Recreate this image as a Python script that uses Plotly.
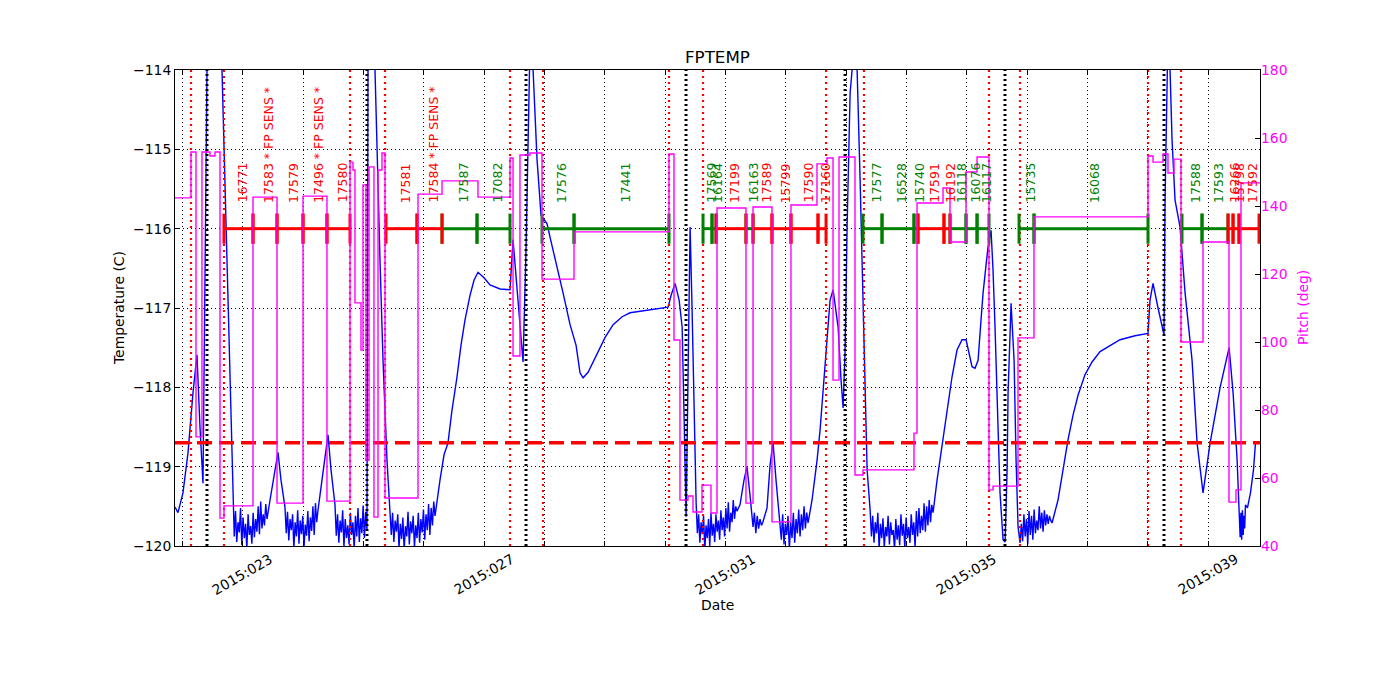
import plotly.graph_objects as go
from datetime import datetime, timedelta

# ---------------- data (day of year 2015) ----------------
# FPTEMP keypoints (day, deg C)
temp_k0 = [(21.873, -119.51), (21.922, -119.58), (22.005, -119.33), (22.088, -118.83), (22.171, -118.07),
           (22.237, -117.59), (22.287, -118.50), (22.337, -119.21), (22.403, -114.0), (22.519, -112.5),
           (22.652, -114.0), (22.751, -116.90)]
temp_k1 = [(23.448, -119.42), (23.514, -119.11), (23.580, -118.82), (23.630, -119.17)]
temp_k2 = [(24.309, -119.17), (24.359, -118.85), (24.409, -118.60), (24.459, -119.04)]
temp_k3 = [(25.072, -114.0), (25.122, -112.8), (25.188, -114.0), (25.271, -116.40), (25.321, -117.66),
           (25.387, -118.92)]
temp_k4 = [(26.265, -119.17), (26.332, -118.85), (26.398, -118.70), (26.464, -118.29), (26.547, -117.87),
           (26.613, -117.47), (26.680, -117.15), (26.763, -116.84), (26.829, -116.65), (26.895, -116.55),
           (26.995, -116.62), (27.094, -116.71), (27.260, -116.76), (27.426, -116.77), (27.476, -116.14),
           (27.559, -116.90), (27.642, -117.68), (27.691, -116.27), (27.741, -114.0), (27.774, -113.0),
           (27.808, -114.0), (27.874, -115.13), (27.940, -115.83), (27.990, -115.89), (28.040, -115.94),
           (28.090, -116.11), (28.189, -116.42), (28.305, -116.81), (28.421, -117.21), (28.521, -117.47),
           (28.587, -117.82), (28.637, -117.88), (28.720, -117.81), (28.869, -117.57), (29.002, -117.37),
           (29.135, -117.21), (29.284, -117.11), (29.416, -117.06), (29.665, -117.03), (30.046, -116.99),
           (30.096, -116.84), (30.162, -116.69), (30.229, -116.90), (30.279, -117.24), (30.312, -118.41),
           (30.345, -119.63), (30.378, -117.78), (30.411, -115.98), (30.444, -117.03), (30.477, -118.41)]
temp_k5 = [(31.238, -119.48), (31.304, -119.17), (31.354, -119.00), (31.404, -119.36)]
temp_k6 = [(31.736, -118.98), (31.785, -118.69), (31.835, -119.17)]
temp_k7 = [(32.432, -119.42), (32.515, -118.92), (32.565, -118.54), (32.615, -118.07), (32.681, -117.40),
           (32.731, -116.90), (32.781, -116.77), (32.830, -117.03), (32.864, -117.24), (32.913, -117.91),
           (32.947, -118.26), (32.980, -117.53), (33.013, -115.98), (33.063, -114.29), (33.096, -114.0),
           (33.129, -113.3), (33.179, -114.0), (33.229, -115.39), (33.262, -116.40), (33.312, -117.91),
           (33.345, -119.04)]
temp_k8 = [(34.504, -119.17), (34.554, -118.92), (34.620, -118.54), (34.670, -118.29), (34.752, -117.87),
           (34.835, -117.53), (34.918, -117.40), (34.985, -117.40), (35.034, -117.59), (35.084, -117.74),
           (35.134, -117.76), (35.184, -117.66), (35.233, -117.15), (35.267, -116.81), (35.316, -116.46),
           (35.349, -116.23), (35.399, -116.02), (35.432, -116.52), (35.465, -117.24), (35.515, -118.41),
           (35.548, -119.33), (35.598, -119.92), (35.632, -119.95), (35.665, -119.04), (35.681, -118.07),
           (35.731, -116.94), (35.781, -117.66), (35.814, -118.92), (35.847, -119.76)]
temp_k9 = [(36.509, -119.42), (36.592, -119.04), (36.675, -118.66), (36.758, -118.35), (36.841, -118.10),
           (36.957, -117.84), (37.073, -117.68), (37.206, -117.55), (37.371, -117.47), (37.537, -117.40),
           (37.786, -117.35), (38.001, -117.32), (38.034, -116.90), (38.084, -116.69), (38.167, -117.00),
           (38.250, -117.32), (38.266, -117.34), (38.283, -115.64), (38.316, -114.0), (38.333, -113.5),
           (38.366, -114.0), (38.399, -114.88), (38.449, -115.64), (38.532, -115.98), (38.615, -116.81),
           (38.731, -117.66), (38.814, -118.70), (38.913, -119.33), (39.030, -118.70), (39.113, -118.35),
           (39.196, -118.00), (39.345, -117.50), (39.411, -118.07), (39.478, -118.92)]
temp_k10 = [(39.649, -119.52), (39.699, -119.33), (39.749, -119.04), (39.782, -118.70)]

noise_n1 = [-119.61, -119.88, -119.56, -119.95, -119.70, -119.83, -119.52, -119.99, -119.64, -119.90,
            -119.72, -120.04, -119.60, -119.86, -119.75, -119.97, -119.58, -119.89, -119.66, -119.82,
            -119.50, -119.85, -119.44, -119.78, -119.60, -119.74, -119.47, -119.66]
noise_n2 = [-119.51, -119.84, -119.57, -119.93, -119.66, -119.80, -119.60, -120.03, -119.70, -119.88,
            -119.55, -119.97, -119.68, -119.85, -119.62, -120.02, -119.73, -119.87, -119.56, -119.94,
            -119.64, -119.81, -119.50, -119.86, -119.46, -119.70, -119.55]
noise_n3 = [-119.48, -119.87, -119.60, -119.96, -119.68, -119.83, -119.55, -120.02, -119.66, -119.90,
            -119.74, -119.98, -119.58, -119.86, -119.70, -120.04, -119.62, -119.88, -119.52, -119.95,
            -119.65, -119.84, -119.49, -119.90, -119.57, -119.80]
noise_n4 = [-119.51, -119.86, -119.58, -119.95, -119.68, -119.82, -119.60, -120.03, -119.72, -119.91,
            -119.64, -120.05, -119.75, -119.88, -119.57, -119.98, -119.69, -119.84, -119.62, -120.02,
            -119.74, -119.90, -119.58, -119.96, -119.66, -119.83, -119.54, -119.92, -119.60, -119.80,
            -119.47, -119.86, -119.52, -119.74, -119.44, -119.62]
noise_n5 = [-119.46, -119.84, -119.60, -119.96, -119.70, -119.85, -119.62, -120.05, -119.74, -119.90,
            -119.66, -120.00, -119.58, -119.87, -119.72, -119.95, -119.60, -119.82, -119.68, -119.92,
            -119.55, -119.80, -119.64, -119.88, -119.52, -119.78, -119.45, -119.82, -119.58, -119.70,
            -119.42, -119.66, -119.50, -119.56]
noise_n6 = [-119.76, -119.58, -119.84, -119.62, -119.78, -119.66, -119.74, -119.70, -119.64, -119.58, -119.52]
noise_n7 = [-119.67, -119.92, -119.60, -119.98, -119.72, -119.86, -119.62, -120.05, -119.70, -119.90,
            -119.58, -119.96, -119.66, -119.84, -119.54, -119.88, -119.60, -119.80, -119.50, -119.78,
            -119.58, -119.71]
noise_n8 = [-119.55, -119.88, -119.62, -119.96, -119.70, -119.84, -119.58, -120.04, -119.72, -119.90,
            -119.65, -120.02, -119.76, -119.88, -119.62, -119.98, -119.70, -119.86, -119.80, -120.05,
            -119.66, -119.92, -119.74, -119.99, -119.60, -119.87, -119.72, -120.03, -119.64, -119.90,
            -119.76, -119.96, -119.60, -119.86, -119.70, -120.02, -119.56, -119.88, -119.52, -119.84,
            -119.62, -119.80, -119.46, -119.82, -119.50, -119.74, -119.42, -119.70, -119.48, -119.58]
noise_n9 = [-119.96, -119.72, -119.94, -119.60, -119.88, -119.66, -119.98, -119.56, -119.86, -119.62,
            -119.92, -119.54, -119.84, -119.68, -119.80, -119.50, -119.78, -119.58, -119.82, -119.55,
            -119.74, -119.60, -119.72, -119.62, -119.68, -119.71]
noise_n10 = [-119.89, -119.58, -119.92, -119.55, -119.86, -119.62, -119.78, -119.48]
noise_spans = [(22.834, 23.398), (23.696, 24.243), (24.525, 25.055), (25.437, 26.183), (30.511, 31.188),
               (31.454, 31.686), (31.901, 32.366), (33.395, 34.438), (35.880, 36.410), (39.528, 39.616)]

# Pitch (deg), step changes
pitch_day = [21.873, 22.138, 22.221, 22.320, 22.453, 22.536, 22.619, 22.685, 23.166, 23.564, 23.995, 24.392,
             24.774, 24.823, 24.856, 24.956, 24.989, 25.039, 25.089, 25.171, 25.238, 25.304, 25.354, 25.901,
             26.299, 26.895, 27.426, 27.476, 27.591, 27.757, 27.956, 28.487, 30.061, 30.144, 30.243, 30.376,
             30.459, 30.608, 30.757, 30.857, 31.337, 31.454, 31.768, 32.083, 32.514, 32.680, 32.780, 32.879,
             33.144, 33.277, 34.122, 34.172, 34.603, 34.719, 34.984, 35.167, 35.365, 35.432, 35.846, 36.111,
             38.001, 38.084, 38.250, 38.332, 38.432, 38.548, 38.912, 39.343, 39.459, 39.542, 39.857]
pitch_val = [142.4, 155.9, 72.1, 155.9, 154.7, 155.9, 48.2, 51.8, 142.6, 52.6, 142.9, 53.2,
             152.9, 150.6, 111.5, 97.6, 146.2, 65.3, 151.5, 48.5, 150.6, 155.6, 54.1, 143.5,
             147.4, 142.6, 154.1, 95.9, 155.0, 155.6, 118.5, 132.4, 155.3, 100.6, 53.5, 54.7,
             50.0, 57.9, 49.7, 139.4, 52.6, 139.7, 47.1, 140.3, 152.4, 154.1, 88.8, 154.4,
             60.9, 62.4, 73.2, 140.9, 145.3, 129.4, 150.0, 154.4, 56.5, 57.6, 101.2, 136.8,
             154.7, 152.9, 155.3, 149.7, 153.8, 100.0, 129.4, 52.9, 56.5, 146.8, 146.8]

# radiation zone entry/exit (red) and perigee (black)
radzone_days = [22.138, 22.685, 24.774, 25.354, 27.426, 27.973, 30.061, 30.625, 32.664, 33.293,
                35.365, 35.879, 38.001, 38.548]
perigee_days = [22.403, 25.055, 27.691, 30.343, 32.979, 35.630, 38.266]
limit_temp = -118.7

# observations
obs_label = ["16771", "17583 * FP SENS *", "17579", "17496 * FP SENS *", "17580", "17581",
             "17584 * FP SENS *", "17587", "17082", "17576", "17441", "17569", "16164", "17199", "16163",
             "17589", "15799", "17590", "17160", "17577", "16528", "15740", "17591", "16192", "16118",
             "16076", "16117", "15735", "16068", "17588", "17593", "16266", "15798", "17592"]
obs_start = [22.685, 23.166, 23.564, 23.995, 24.392, 25.370, 25.884, 26.299, 26.879, 27.956, 28.487,
             30.625, 30.774, 30.841, 31.337, 31.454, 31.768, 32.083, 32.531, 33.277, 33.592, 34.122,
             34.188, 34.619, 34.719, 34.984, 35.167, 35.863, 36.111, 38.564, 38.896, 39.327, 39.410, 39.509]
obs_end = [23.166, 23.564, 23.995, 24.392, 24.774, 25.884, 26.299, 26.879, 27.426, 28.487, 30.061,
           30.774, 30.841, 31.337, 31.454, 31.768, 32.083, 32.531, 32.664, 33.592, 34.122, 34.188,
           34.619, 34.719, 34.984, 35.167, 35.365, 36.111, 38.001, 38.896, 39.327, 39.410, 39.509, 39.841]
obs_kind = ["r", "r", "r", "r", "r", "r", "r", "g", "g", "g", "g", "g", "g", "r", "g", "r", "r", "r", "r",
            "g", "g", "g", "r", "r", "g", "g", "g", "g", "g", "g", "g", "r", "r", "r"]
obs_level = -116.0

x_label_days = [23, 27, 31, 35, 39]
x_range_days = [21.873, 39.857]

# ---------------- build ----------------
RED = "#ff0000"
GREEN = "#008000"
BLUE = "#0000ff"
MAG = "#ff00ff"
FONT = "DejaVu Sans"


def dt(d):
    return datetime(2015, 1, 1) + timedelta(days=d - 1)


pts = []
for seg in [temp_k0, temp_k1, temp_k2, temp_k3, temp_k4, temp_k5, temp_k6, temp_k7, temp_k8, temp_k9, temp_k10]:
    pts.extend(seg)
noise_lists = [noise_n1, noise_n2, noise_n3, noise_n4, noise_n5, noise_n6, noise_n7, noise_n8, noise_n9, noise_n10]
for vals, (s, e) in zip(noise_lists, noise_spans):
    n = len(vals)
    for i, v in enumerate(vals):
        pts.append((s + (e - s) * i / (n - 1), v))
pts.sort(key=lambda p: p[0])

fig = go.Figure()

fig.add_trace(go.Scatter(x=[dt(p[0]) for p in pts], y=[p[1] for p in pts], mode="lines",
                         line=dict(color=BLUE, width=1.4), yaxis="y", showlegend=False))

fig.add_trace(go.Scatter(x=[dt(x_range_days[0]), dt(x_range_days[1])], y=[limit_temp, limit_temp],
                         mode="lines", line=dict(color=RED, width=3.5, dash="15px,7px"), showlegend=False))


def vlines(days):
    xs, ys = [], []
    for d in days:
        xs += [dt(d), dt(d), None]
        ys += [-120, -114, None]
    return xs, ys


xs, ys = vlines(radzone_days)
fig.add_trace(go.Scatter(x=xs, y=ys, mode="lines", line=dict(color=RED, width=2.2, dash="2px,4px"),
                         showlegend=False))
xs, ys = vlines(perigee_days)
fig.add_trace(go.Scatter(x=xs, y=ys, mode="lines", line=dict(color="black", width=3, dash="2px,3px"),
                         showlegend=False))

# observation bars and ticks
for kind, col in [("g", GREEN), ("r", RED)]:
    bx, by, tx, ty = [], [], [], []
    for s, e, k in zip(obs_start, obs_end, obs_kind):
        if k != kind:
            continue
        bx += [dt(s), dt(e), None]
        by += [obs_level, obs_level, None]
        for d in (s, e):
            tx += [dt(d), dt(d), None]
            ty += [obs_level + 0.19, obs_level - 0.19, None]
    fig.add_trace(go.Scatter(x=bx, y=by, mode="lines", line=dict(color=col, width=3), showlegend=False))
    fig.add_trace(go.Scatter(x=tx, y=ty, mode="lines", line=dict(color=col, width=3), showlegend=False))

fig.add_trace(go.Scatter(x=[dt(d) for d in pitch_day], y=pitch_val, mode="lines", line_shape="hv",
                         line=dict(color=MAG, width=1.4), yaxis="y2", showlegend=False))

annotations = []
for lab, s, e, k in zip(obs_label, obs_start, obs_end, obs_kind):
    annotations.append(dict(x=dt((s + e) / 2), y=-115.70, xref="x", yref="y", text=lab, showarrow=False,
                            textangle=-90, xanchor="center", yanchor="bottom", xshift=4,
                            font=dict(family=FONT, size=12.5, color=RED if k == "r" else GREEN)))
for d in x_label_days:
    annotations.append(dict(x=dt(d), y=0, xref="x", yref="paper", text="2015:%03d" % d, showarrow=False,
                            textangle=-30, xanchor="center", yanchor="top", yshift=-2,
                            font=dict(family=FONT, size=13.9, color="black")))
annotations.append(dict(x=0.5, y=1, xref="paper", yref="paper", text="FPTEMP", showarrow=False,
                        xanchor="center", yanchor="bottom", yshift=1,
                        font=dict(family=FONT, size=16.7, color="black")))
annotations.append(dict(x=0.5, y=0, xref="paper", yref="paper", text="Date", showarrow=False,
                        xanchor="center", yanchor="top", yshift=-49,
                        font=dict(family=FONT, size=13.9, color="black")))
annotations.append(dict(x=0, y=0.5, xref="paper", yref="paper", text="Temperature (C)", showarrow=False,
                        textangle=-90, xanchor="center", yanchor="middle", xshift=-56,
                        font=dict(family=FONT, size=13.9, color="black")))
annotations.append(dict(x=1, y=0.5, xref="paper", yref="paper", text="Pitch (deg)", showarrow=False,
                        textangle=-90, xanchor="center", yanchor="middle", xshift=43,
                        font=dict(family=FONT, size=13.9, color=MAG)))

grid_days = list(range(22, 40))
fig.update_layout(
    width=1400, height=700,
    margin=dict(l=167, r=148, t=62, b=162),
    plot_bgcolor="white", paper_bgcolor="white",
    font=dict(family=FONT, size=13.9, color="black"),
    showlegend=False,
    annotations=annotations,
    xaxis=dict(type="date", range=[dt(x_range_days[0]), dt(x_range_days[1])],
               tickmode="array", tickvals=[dt(d) for d in grid_days], showticklabels=False,
               ticks="inside", ticklen=5, tickcolor="black", showline=True, linecolor="black",
               linewidth=1, mirror="ticks", showgrid=True, gridcolor="black", gridwidth=0.7,
               griddash="1px,3px", zeroline=False),
    yaxis=dict(range=[-120, -114], tickmode="array", tickvals=[-120, -119, -118, -117, -116, -115, -114],
               ticks="inside", ticklen=5, tickcolor="black", showline=True, linecolor="black", linewidth=1,
               mirror=True, showgrid=True, gridcolor="black", gridwidth=0.7, griddash="1px,3px",
               zeroline=False, tickfont=dict(size=13.9, color="black")),
    yaxis2=dict(range=[40, 180], overlaying="y", side="right", tickmode="array",
                tickvals=[40, 60, 80, 100, 120, 140, 160, 180], ticks="inside", ticklen=5,
                tickcolor="black", showgrid=False, zeroline=False, showline=False,
                tickfont=dict(size=13.9, color=MAG)),
)

fig.write_html("out.html")
